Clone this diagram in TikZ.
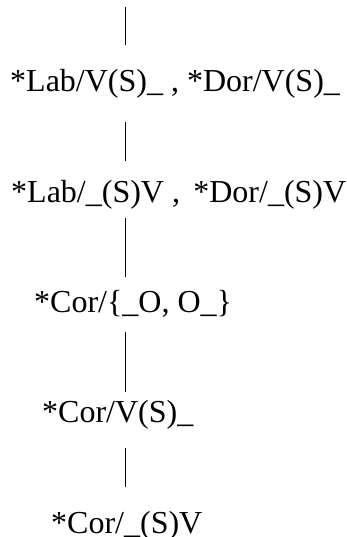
\documentclass[tikz,border=0pt]{standalone}
\usepackage{fontspec}
\setmainfont{Liberation Serif}
\usepackage{tikz}

\tikzset{
  cand/.style={anchor=base west, inner sep=0pt, text height=24pt, text depth=7pt, font=\fontsize{32}{36}\selectfont},
  link/.style={line width=1pt}
}

\begin{document}
\begin{tikzpicture}[x=1pt,y=-1pt]
\useasboundingbox (0,0) rectangle (346,537);

% Candidate rows
\node[cand] (r1) at (10,92) {*Lab/V(S)\_ , *Dor/V(S)\_};
\node[cand] (r2) at (11,202) {*Lab/\_(S)V ,\ \,*Dor/\_(S)V};
\node[cand] (r3) at (34,312) {*Cor/\{\_O, O\_\}};
\node[cand] (r4) at (42,422) {*Cor/V(S)\_};
\node[cand] (r5) at (51,533) {*Cor/\_(S)V};

% Spine
\coordinate (spine) at (125,7);
\draw[link,shorten >=23pt] (spine) -- (spine |- r1.north);
\foreach \a/\b/\s/\e in {r1/r2/23/17, r2/r3/9/11, r3/r4/13/6, r4/r5/19/22} {
    \draw[link,shorten <=\s pt,shorten >=\e pt] (spine |- \a.south) -- (spine |- \b.north);
}

\end{tikzpicture}
\end{document}
